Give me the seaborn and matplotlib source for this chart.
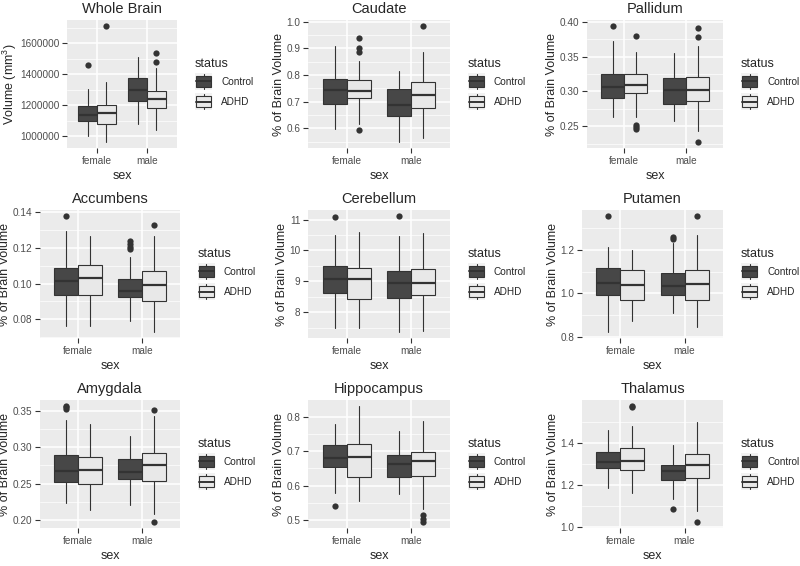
import matplotlib
matplotlib.use("Agg")
import matplotlib.pyplot as plt
import seaborn as sns
from matplotlib.patches import Rectangle
from matplotlib.lines import Line2D
from matplotlib.legend_handler import HandlerBase

# ── data: [whislo, q1, median, q3, whishi] ───────────────────────────────────
# group order: female/Control, female/ADHD, male/Control, male/ADHD
sexes = ["female", "male"]
statuses = ["Control", "ADHD"]
regions = ["Whole Brain", "Caudate", "Pallidum",
           "Accumbens", "Cerebellum", "Putamen",
           "Amygdala", "Hippocampus", "Thalamus"]

whole_brain = [[1000000, 1097500, 1138700, 1197000, 1307700],
               [961000, 1080200, 1151700, 1203700, 1348900],
               [1075800, 1225400, 1301200, 1374900, 1509200],
               [1036800, 1182000, 1238400, 1292500, 1439900]]
whole_brain_out = [[1459400], [1712900], [], [1539600, 1478900]]

caudate = [[0.597, 0.693, 0.745, 0.785, 0.911],
           [0.618, 0.714, 0.742, 0.782, 0.854],
           [0.548, 0.645, 0.689, 0.746, 0.816],
           [0.565, 0.678, 0.725, 0.775, 0.888]]
caudate_out = [[], [0.938, 0.903, 0.888, 0.594], [], [0.985]]

pallidum = [[0.263, 0.290, 0.3065, 0.3248, 0.3725],
            [0.263, 0.2975, 0.309, 0.325, 0.356],
            [0.2582, 0.2824, 0.3016, 0.3195, 0.3547],
            [0.2428, 0.2857, 0.3026, 0.3209, 0.3658]]
pallidum_out = [[0.394], [0.380, 0.2525, 0.2486, 0.2462], [],
                [0.3913, 0.3773, 0.2274]]

accumbens = [[0.0762, 0.0936, 0.1014, 0.109, 0.1298],
             [0.0759, 0.0938, 0.1029, 0.1105, 0.1266],
             [0.0787, 0.0923, 0.0957, 0.1025, 0.115],
             [0.0726, 0.090, 0.0989, 0.1071, 0.127]]
accumbens_out = [[0.1381], [], [0.1237, 0.1222, 0.1207, 0.1192], [0.1332]]

cerebellum = [[7.51, 8.64, 9.07, 9.51, 10.50],
              [7.49, 8.42, 9.08, 9.43, 10.59],
              [7.36, 8.46, 8.96, 9.33, 10.47],
              [7.41, 8.55, 8.96, 9.39, 10.56]]
cerebellum_out = [[11.08], [], [11.12], []]

putamen = [[0.822, 0.995, 1.046, 1.118, 1.214],
           [0.874, 0.972, 1.038, 1.11, 1.20],
           [0.910, 0.995, 1.035, 1.095, 1.231],
           [0.845, 0.972, 1.044, 1.109, 1.27]]
putamen_out = [[1.354], [], [1.26, 1.25], [1.357]]

amygdala = [[0.2242, 0.2526, 0.2672, 0.2896, 0.3372],
            [0.2137, 0.2498, 0.2686, 0.286, 0.3317],
            [0.2205, 0.2562, 0.2658, 0.2841, 0.3148],
            [0.2091, 0.2539, 0.2759, 0.2919, 0.3431]]
amygdala_out = [[0.3569, 0.3546, 0.3523], [], [], [0.3509, 0.1972]]

hippocampus = [[0.579, 0.653, 0.680, 0.718, 0.7795],
               [0.555, 0.625, 0.684, 0.720, 0.833],
               [0.574, 0.625, 0.662, 0.689, 0.760],
               [0.532, 0.627, 0.671, 0.697, 0.789]]
hippocampus_out = [[0.540], [], [], [0.513, 0.503, 0.493]]

thalamus = [[1.185, 1.277, 1.309, 1.354, 1.4606],
            [1.161, 1.271, 1.311, 1.373, 1.48],
            [1.129, 1.22, 1.265, 1.293, 1.389],
            [1.076, 1.229, 1.292, 1.347, 1.50]]
thalamus_out = [[], [1.575, 1.567], [1.086], [1.021]]

# y tick values and label formats per panel
ticks = [[1000000, 1200000, 1400000, 1600000],
         [0.6, 0.7, 0.8, 0.9, 1.0],
         [0.25, 0.30, 0.35, 0.40],
         [0.08, 0.10, 0.12, 0.14],
         [8, 9, 10, 11],
         [0.8, 1.0, 1.2],
         [0.20, 0.25, 0.30, 0.35],
         [0.5, 0.6, 0.7, 0.8],
         [1.0, 1.2, 1.4]]
tick_fmt = ["{:.0f}", "{:.1f}", "{:.2f}", "{:.2f}", "{:.0f}",
            "{:.1f}", "{:.2f}", "{:.1f}", "{:.1f}"]

all_stats = [whole_brain, caudate, pallidum, accumbens, cerebellum,
             putamen, amygdala, hippocampus, thalamus]
all_out = [whole_brain_out, caudate_out, pallidum_out, accumbens_out,
           cerebellum_out, putamen_out, amygdala_out, hippocampus_out,
           thalamus_out]

# ── style ───────────────────────────────────────────────────────────────────
sns.set_theme(style="darkgrid", rc={
    "axes.facecolor": "#EBEBEB",
    "grid.color": "white",
    "axes.edgecolor": "none",
})
plt.rcParams["font.family"] = ["Liberation Sans", "DejaVu Sans"]
plt.rcParams["mathtext.default"] = "regular"

FILL = {"Control": "#474747", "ADHD": "#E8E8E8"}
LINE = "#333333"
W, H = 800, 566


class BoxKey(HandlerBase):
    """ggplot-like boxplot legend key."""
    def create_artists(self, legend, orig_handle, xd, yd, width, height,
                       fontsize, trans):
        x0, y0 = -xd, -yd
        bg = Rectangle((x0, y0), width, height, fc="#F2F2F2", ec="none",
                       transform=trans)
        cx = x0 + width / 2
        wh = Line2D([cx, cx], [y0 + 0.04 * height, y0 + 0.96 * height],
                    color=LINE, lw=0.8, transform=trans)
        box = Rectangle((x0 + 0.08 * width, y0 + 0.2 * height),
                        0.84 * width, 0.6 * height,
                        fc=orig_handle.get_facecolor(), ec=LINE, lw=0.8,
                        transform=trans)
        med = Line2D([x0 + 0.08 * width, x0 + 0.92 * width],
                     [y0 + 0.5 * height] * 2, color=LINE, lw=1.4,
                     transform=trans)
        return [bg, wh, box, med]


# panel rectangles in pixels: (left, right), rows share top
panel_lr = [(67, 177), (308, 450), (587, 723),
            (40, 180), (308, 450), (582, 723),
            (40, 180), (308, 450), (582, 723)]
row_top = [20, 210, 400]
panel_h = 128

fig = plt.figure(figsize=(W / 100, H / 100), dpi=100)

offs = 0.1875
positions = [0 - offs, 0 + offs, 1 - offs, 1 + offs]
group_status = ["Control", "ADHD", "Control", "ADHD"]

for i, region in enumerate(regions):
    l, r = panel_lr[i]
    top = row_top[i // 3]
    ax = fig.add_axes([l / W, 1 - (top + panel_h) / H, (r - l) / W, panel_h / H])

    stats = []
    for s, out in zip(all_stats[i], all_out[i]):
        stats.append({"whislo": s[0], "q1": s[1], "med": s[2], "q3": s[3],
                      "whishi": s[4], "fliers": out})
    bp = ax.bxp(stats, positions=positions, widths=0.375, patch_artist=True,
                showcaps=False,
                boxprops=dict(edgecolor=LINE, linewidth=0.8),
                whiskerprops=dict(color=LINE, linewidth=0.8),
                medianprops=dict(color=LINE, linewidth=1.6),
                flierprops=dict(marker="o", markerfacecolor=LINE,
                                markeredgecolor="none", markersize=4.5))
    for b, st in zip(bp["boxes"], group_status):
        b.set_facecolor(FILL[st])
    for el in ("boxes", "whiskers", "medians", "fliers"):
        for a in bp[el]:
            a.set_zorder(3)

    # ggplot-style 5% expansion
    vals = [v for s in all_stats[i] for v in (s[0], s[4])]
    vals += [v for o in all_out[i] for v in o]
    lo, hi = min(vals), max(vals)
    pad = 0.05 * (hi - lo)
    ax.set_ylim(lo - pad, hi + pad)
    ax.set_xlim(-0.6, 1.6)

    tk = ticks[i]
    ax.set_yticks(tk)
    ax.set_yticklabels([tick_fmt[i].format(t) for t in tk])
    step = tk[1] - tk[0]
    minor = [tk[0] - step / 2] + [t + step / 2 for t in tk]
    minor = [m for m in minor if lo - pad < m < hi + pad]
    ax.set_yticks(minor, minor=True)
    ax.set_xticks([0, 1])
    ax.set_xticklabels(sexes)

    ax.grid(True, which="major", color="white", lw=1.1)
    ax.grid(True, which="minor", axis="y", color="white", lw=0.5)
    ax.set_axisbelow(True)
    ax.tick_params(which="major", length=3.5, width=0.8, color=LINE,
                   labelsize=7.2, labelcolor="#4D4D4D", pad=2)
    ax.tick_params(which="minor", length=0)
    ax.tick_params(axis="y", left=True)
    ax.tick_params(axis="x", bottom=True)

    ax.set_title(region, fontsize=10.5, pad=5)
    ax.set_xlabel("sex", fontsize=9, labelpad=3)
    ylab = "Volume (mm$^3$)" if i == 0 else "% of Brain Volume"
    ax.set_ylabel(ylab, fontsize=9, labelpad=1)

    handles = [Rectangle((0, 0), 1, 1, fc=FILL[s]) for s in statuses]
    gap = 18
    ax.legend(handles, statuses, title="status", loc="center left",
              bbox_to_anchor=(1 + gap / (r - l), 0.5), frameon=False,
              fontsize=7.2, title_fontsize=9, handlelength=1.7,
              handleheight=2.25, labelspacing=0.3, handletextpad=0.9,
              borderaxespad=0, borderpad=0, alignment="left",
              handler_map={Rectangle: BoxKey()})

fig.savefig("out.png", dpi=100)
